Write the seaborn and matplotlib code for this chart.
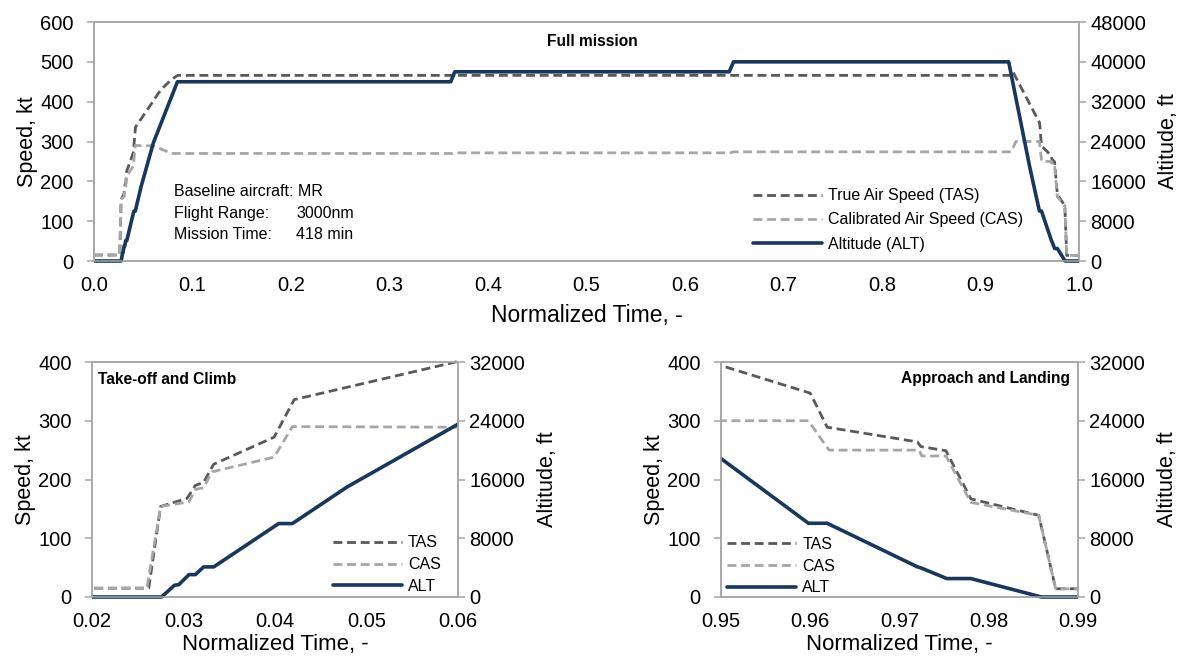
import numpy as np
import pandas as pd
import matplotlib
matplotlib.use("Agg")
import matplotlib.pyplot as plt
from matplotlib.ticker import FormatStrFormatter
from matplotlib.transforms import Bbox, TransformedBbox
import seaborn as sns

# ---------------- data ----------------
tas_time = [0.0, 0.0262, 0.0275, 0.0304, 0.0313, 0.0322, 0.0333, 0.0399, 0.0421,
            0.060, 0.065, 0.070, 0.075, 0.080, 0.085, 0.930, 0.9327, 0.950,
            0.960, 0.9619, 0.972, 0.9724, 0.9752, 0.978, 0.9856, 0.9875, 1.0]
tas_kt = [15, 15, 154, 168, 190, 195, 226, 272, 336,
          401, 420, 435, 447, 458, 466, 466, 476, 394,
          347, 289, 264, 256, 249, 167, 139, 14, 14]

cas_time = [0.0, 0.0260, 0.0275, 0.0306, 0.0313, 0.0322, 0.0331, 0.0399, 0.0419,
            0.060, 0.065, 0.070, 0.075, 0.078, 0.3640, 0.3670, 0.6460, 0.6490,
            0.931, 0.936, 0.9598, 0.9621, 0.9722, 0.9725, 0.9752, 0.978,
            0.9856, 0.9875, 1.0]
cas_kt = [15, 15, 154, 162, 183, 186, 213, 238, 290,
          289, 284, 279, 274, 270, 270, 271.5, 271.5, 274,
          274, 300, 300, 250, 250, 240, 240, 161,
          139, 14, 14]

alt_time = [0.0, 0.0276, 0.0290, 0.0295, 0.0306, 0.0313, 0.0322, 0.0333, 0.0404,
            0.0419, 0.0479, 0.0603, 0.0847, 0.3622, 0.3663, 0.6449, 0.6493,
            0.9286, 0.950, 0.9598, 0.9619, 0.972, 0.9724, 0.9753, 0.978,
            0.9859, 1.0]
alt_ft = [0, 0, 1590, 1690, 3050, 3050, 4100, 4100, 10000,
          10000, 15000, 23750, 36000, 36000, 38000, 38000, 40000,
          40000, 18850, 10040, 10040, 4110, 3960, 2510, 2510,
          0, 0]

speed_ticks_top = [0, 100, 200, 300, 400, 500, 600]
alt_ticks_top = [0, 8000, 16000, 24000, 32000, 40000, 48000]
time_ticks_top = [0.0, 0.1, 0.2, 0.3, 0.4, 0.5, 0.6, 0.7, 0.8, 0.9, 1.0]
speed_ticks_bot = [0, 100, 200, 300, 400]
alt_ticks_bot = [0, 8000, 16000, 24000, 32000]
time_ticks_climb = [0.02, 0.03, 0.04, 0.05, 0.06]
time_ticks_land = [0.95, 0.96, 0.97, 0.98, 0.99]

labels_long = ["True Air Speed (TAS)", "Calibrated Air Speed (CAS)", "Altitude (ALT)"]
labels_short = ["TAS", "CAS", "ALT"]
info_keys = ["Baseline aircraft: MR", "Flight Range:", "Mission Time:"]
info_vals = ["", "3000nm", "418 min"]

tas_df = pd.DataFrame({"t": tas_time, "v": tas_kt})
cas_df = pd.DataFrame({"t": cas_time, "v": cas_kt})
alt_df = pd.DataFrame({"t": alt_time, "v": alt_ft})

# ---------------- style ----------------
sns.set_theme(style="white")
plt.rcParams["font.family"] = ["Liberation Sans", "DejaVu Sans"]
plt.rcParams["text.color"] = "black"
plt.rcParams["axes.labelcolor"] = "black"
SPINE = "#a6a6a6"
C_TAS = "#595959"
C_CAS = "#a6a6a6"
C_ALT = "#17375e"
DASH = (0, (3.2, 1.7))
TICK_FS = 14.5
YLABEL_FS = 15.5

W, H = 1188, 660
fig = plt.figure(figsize=(W / 100, H / 100), dpi=100)


def px_axes(x0, y0, x1, y1):
    return fig.add_axes([x0 / W, 1 - y1 / H, (x1 - x0) / W, (y1 - y0) / H])


def style_axes(ax):
    for s in ax.spines.values():
        s.set_visible(True)
        s.set_color(SPINE)
        s.set_linewidth(1.1)
    ax.tick_params(direction="out", length=5, width=1.1, color=SPINE,
                   labelsize=TICK_FS, labelcolor="black")
    ax.tick_params(axis="x", pad=6)
    ax.tick_params(axis="y", which="both", left=True, right=False, pad=9.5)
    ax.grid(False)


def widen_clip(ax):
    box = TransformedBbox(Bbox([[0, -0.02], [1, 1.02]]), ax.transAxes)
    for ln in ax.lines:
        ln.set_clip_box(box)


def panel(ax, xlim, xticks, xfmt, ymax, yticks, amax, aticks, labels,
          leg_xy, leg_spacing, title, title_xy, title_ha, xlabel_fs, xlabel_pad):
    style_axes(ax)
    sns.lineplot(data=tas_df, x="t", y="v", ax=ax, color=C_TAS, linestyle=DASH,
                 linewidth=2.0, estimator=None, sort=False)
    sns.lineplot(data=cas_df, x="t", y="v", ax=ax, color=C_CAS, linestyle=DASH,
                 linewidth=2.0, estimator=None, sort=False)
    ax2 = ax.twinx()
    for s in ax2.spines.values():
        s.set_color(SPINE)
        s.set_linewidth(1.1)
    ax2.tick_params(axis="y", direction="out", length=5, width=1.1, color=SPINE,
                    labelsize=TICK_FS, labelcolor="black", pad=3)
    ax2.grid(False)
    sns.lineplot(data=alt_df, x="t", y="v", ax=ax2, color=C_ALT,
                 linewidth=2.6, estimator=None, sort=False)
    ax.set_xlim(*xlim)
    ax.set_xticks(xticks)
    ax.xaxis.set_major_formatter(FormatStrFormatter(xfmt))
    ax.set_ylim(0, ymax)
    ax.set_yticks(yticks)
    ax2.set_ylim(0, amax)
    ax2.set_yticks(aticks)
    widen_clip(ax)
    widen_clip(ax2)
    ax.set_xlabel("Normalized Time, -", fontsize=xlabel_fs, labelpad=xlabel_pad)
    ax.set_ylabel("Speed, kt", fontsize=YLABEL_FS, labelpad=2)
    ax2.set_ylabel("Altitude, ft", fontsize=YLABEL_FS, labelpad=9)
    handles = [ax.lines[0], ax.lines[1], ax2.lines[0]]
    ax2.legend(handles, labels, loc="upper left", frameon=False,
               bbox_to_anchor=leg_xy, borderaxespad=0, borderpad=0,
               fontsize=11.5, handlelength=4.3, handletextpad=0.4,
               labelspacing=leg_spacing)
    fig.text(title_xy[0] / W, 1 - title_xy[1] / H, title, fontsize=11.2,
             fontweight="bold", ha=title_ha, va="center")
    return ax2


# top: full mission
ax_top = px_axes(94, 22, 1079, 261)
panel(ax_top, (0.0, 1.0), time_ticks_top, "%.1f", 600, speed_ticks_top,
      48000, alt_ticks_top, labels_long, (0.669, 0.305), 0.58,
      "Full mission", (592, 42), "center", 16.5, 6)

# bottom-left: take-off and climb
ax_bl = px_axes(92, 362, 458, 597)
panel(ax_bl, (0.02, 0.06), time_ticks_climb, "%.2f", 400, speed_ticks_bot,
      32000, alt_ticks_bot, labels_short, (0.658, 0.262), 0.42,
      "Take-off and Climb", (98, 379), "left", 16.0, 2)

# bottom-right: approach and landing
ax_br = px_axes(721, 362, 1078, 597)
panel(ax_br, (0.95, 0.99), time_ticks_land, "%.2f", 400, speed_ticks_bot,
      32000, alt_ticks_bot, labels_short, (0.017, 0.255), 0.42,
      "Approach and Landing", (1070, 379), "right", 16.0, 2)

# info text block in the full-mission panel
for i, (k, v) in enumerate(zip(info_keys, info_vals)):
    y = 1 - (192 + 21.3 * i) / H
    fig.text(174 / W, y, k, fontsize=11.5, ha="left", va="center")
    if v:
        fig.text(296 / W, y, v, fontsize=11.5, ha="left", va="center")

fig.savefig("out.png", dpi=100)
